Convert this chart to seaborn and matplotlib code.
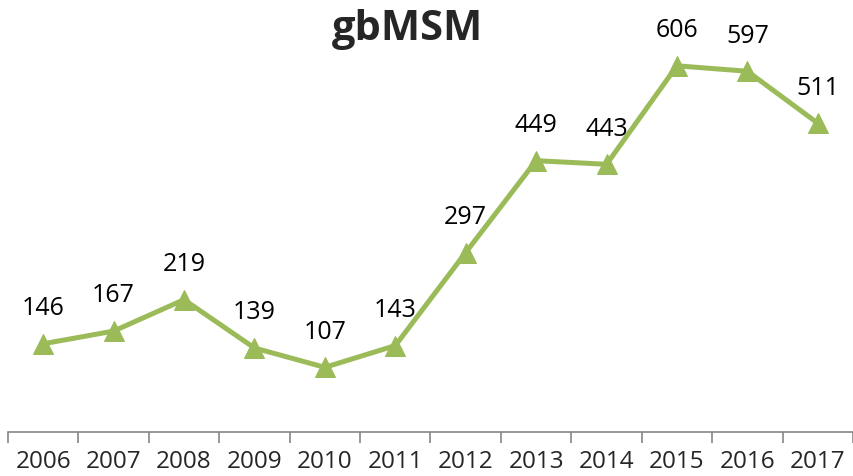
import numpy as np
import matplotlib
matplotlib.use('Agg')
import matplotlib.pyplot as plt
import seaborn as sns
import pandas as pd

years = ['2006', '2007', '2008', '2009', '2010', '2011',
         '2012', '2013', '2014', '2015', '2016', '2017']
cases = [146, 167, 219, 139, 107, 143, 297, 449, 443, 606, 597, 511]

sns.set_style('white')
plt.rcParams['font.family'] = ['Open Sans', 'DejaVu Sans']

df = pd.DataFrame({'year': years, 'cases': cases})
df['pos'] = range(len(years))

fig = plt.figure(figsize=(8.54, 4.77), dpi=100)
ax = fig.add_axes([8/854, 44/477, 845/854, 423/477])

green = '#9BBB59'
sns.lineplot(data=df, x='pos', y='cases', ax=ax, color=green, lw=3.6,
             marker='^', markersize=14, markeredgecolor=green)

for x, y in zip(df['pos'], df['cases']):
    ax.annotate(str(y), (x, y), xytext=(0, 26), textcoords='offset points',
                ha='center', va='center', fontsize=18, color='black')

ax.set_xlim(-0.5, len(years) - 0.5)
ax.set_ylim(0, 700)

ax.set_xticks(df['pos'])
ax.set_xticklabels(years, fontsize=17.5)
ax.set_xticks(np.arange(-0.5, len(years), 1), minor=True)
ax.tick_params(axis='x', which='major', length=0, pad=12)
ax.tick_params(axis='x', which='minor', length=8, width=1.2, color='#868686',
               direction='out', bottom=True)
ax.set_yticks([])
ax.set_xlabel('')
ax.set_ylabel('')

for s in ['top', 'right', 'left']:
    ax.spines[s].set_visible(False)
ax.spines['bottom'].set_color('#868686')
ax.spines['bottom'].set_linewidth(1.2)

fig.text(408/854, 1 - 30/477, 'gbMSM', ha='center', va='center',
         fontsize=30, fontweight='bold')

fig.savefig('out.png', dpi=100)
